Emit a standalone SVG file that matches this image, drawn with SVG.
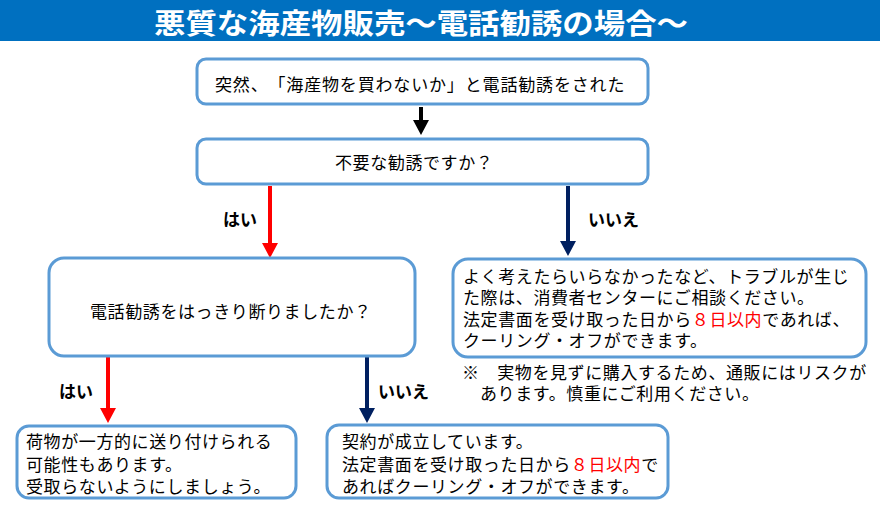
<svg xmlns="http://www.w3.org/2000/svg" width="880" height="512" viewBox="0 0 880 512">
<style>
.box{fill:#fff;stroke:#5B9BD5;stroke-width:3}
.t{font-family:"Noto Sans CJK JP","Noto Sans",sans-serif;font-size:17px;letter-spacing:0.6px;fill:#000;text-spacing-trim:space-all;font-feature-settings:"halt" 0,"chws" 0}
.lb{font-family:"Noto Sans CJK JP","Noto Sans",sans-serif;font-size:17px;font-weight:bold;fill:#000}
.red{fill:#FF0000}
</style>
<rect x="0" y="0" width="880" height="41" fill="#0070C0"/>
<text x="421" y="34" text-anchor="middle" font-family="'Noto Sans CJK JP',sans-serif" font-size="28" font-weight="bold" fill="#fff" textLength="534" lengthAdjust="spacingAndGlyphs">悪質な海産物販売～電話勧誘の場合～</text>
<g id="connectors">
<line x1="421" y1="107" x2="421" y2="121" stroke="#000" stroke-width="4"/>
<polygon points="413,120 429,120 421,135" fill="#000"/>
<line x1="270" y1="186" x2="270" y2="244" stroke="#FF0000" stroke-width="4"/>
<polygon points="262,243 278,243 270,258" fill="#FF0000"/>
<line x1="568" y1="186" x2="568" y2="242" stroke="#002060" stroke-width="4"/>
<polygon points="560,241 576,241 568,256" fill="#002060"/>
<line x1="108" y1="357" x2="108" y2="409" stroke="#FF0000" stroke-width="4"/>
<polygon points="100,408 116,408 108,423" fill="#FF0000"/>
<line x1="367" y1="357" x2="367" y2="409" stroke="#002060" stroke-width="4"/>
<polygon points="359,408 375,408 367,423" fill="#002060"/>
<text class="lb" x="223" y="226">はい</text>
<text class="lb" x="588" y="226">いいえ</text>
<text class="lb" x="59" y="398">はい</text>
<text class="lb" x="378" y="398">いいえ</text>
</g>
<g id="n1">
<rect class="box" x="197" y="59" width="451" height="45" rx="9"/>
<text class="t" x="215" y="91" textLength="410" lengthAdjust="spacing">突然、「海産物を買わないか」と電話勧誘をされた</text>
</g>
<g id="n2">
<rect class="box" x="197" y="139" width="451" height="45" rx="9"/>
<text class="t" x="335" y="169">不要な勧誘ですか？</text>
</g>
<g id="n3">
<rect class="box" x="49" y="258" width="366" height="98" rx="15"/>
<text class="t" x="90" y="318">電話勧誘をはっきり断りましたか？</text>
</g>
<g id="n4">
<rect class="box" x="453" y="259" width="413" height="98" rx="15"/>
<text class="t" x="463" y="283">よく考えたらいらなかったなど、トラブルが生じ</text>
<text class="t" x="463" y="304">た際は、消費者センターにご相談ください。</text>
<text class="t" x="463" y="326">法定書面を受け取った日から<tspan class="red">８日以内</tspan>であれば、</text>
<text class="t" x="463" y="347">クーリング・オフができます。</text>
</g>
<g id="note">
<text class="t" x="462" y="379">※　実物を見ずに購入するため、通販にはリスクが</text>
<text class="t" x="480" y="400">あります。慎重にご利用ください。</text>
</g>
<g id="n5">
<rect class="box" x="17" y="426" width="279" height="72" rx="12"/>
<text class="t" x="26" y="448">荷物が一方的に送り付けられる</text>
<text class="t" x="26" y="471">可能性もあります。</text>
<text class="t" x="26" y="493">受取らないようにしましょう。</text>
</g>
<g id="n6">
<rect class="box" x="327" y="425" width="341" height="73" rx="12"/>
<text class="t" x="342" y="448">契約が成立しています。</text>
<text class="t" x="342" y="471">法定書面を受け取った日から<tspan class="red">８日以内</tspan>で</text>
<text class="t" x="342" y="493">あればクーリング・オフができます。</text>
</g>
</svg>
